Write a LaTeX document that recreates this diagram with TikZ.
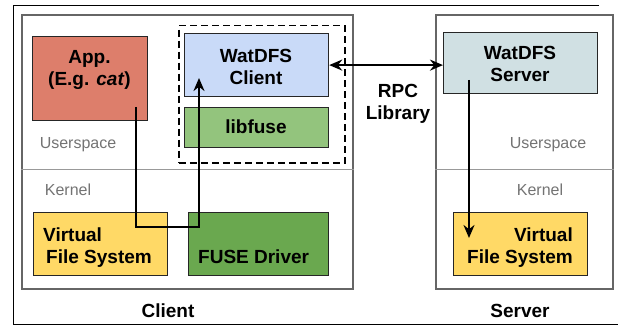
\documentclass[tikz,border=0pt]{standalone}
\usepackage{fontspec}
\setmainfont{Liberation Sans}
\usepackage{xcolor}
\usetikzlibrary{arrows.meta}
\definecolor{appred}{HTML}{DD7E6B}
\definecolor{cliblue}{HTML}{C9DAF8}
\definecolor{fuselight}{HTML}{93C47D}
\definecolor{fusedark}{HTML}{6AA84F}
\definecolor{vfsyellow}{HTML}{FFD966}
\definecolor{srvcyan}{HTML}{D0E0E3}

\begin{document}
\begin{tikzpicture}[x=1pt,y=-1pt,
  outer/.style={draw=black!60,line width=2.4pt,anchor=north west,inner sep=0pt},
  box/.style={draw=black!85,line width=1.2pt,anchor=north west,inner sep=0pt},
  lbl/.style={font=\fontsize{19}{22}\selectfont\bfseries,inner sep=0pt,anchor=base},
  sublbl/.style={font=\fontsize{16}{18}\selectfont,text=black!55,inner sep=0pt,anchor=base},
  flow/.style={line width=2.8pt,-{Stealth[length=13pt,width=11pt]}}]
\useasboundingbox (0,0) rectangle (618,326);
\draw[line width=0.8pt] (599,5) -- (13,5) -- (13,324) -- (618,324);
\node[outer,minimum width=331pt,minimum height=274pt] (client) at (21,14) {};
\node[outer,minimum width=177pt,minimum height=274pt] (server) at (435,14) {};
\foreach \b in {client,server}{
\draw[black!40,line width=0.8pt] (\b.west |- 0,169) -- (\b.east |- 0,169);
}
\node[draw,line width=1.5pt,dash pattern=on 7pt off 4pt,anchor=north west,inner sep=0pt,minimum width=166pt,minimum height=137pt] (wrap) at (178,25) {};
\node[box,fill=appred,minimum width=115pt,minimum height=84pt] (app) at (32,36) {};
\node[box,fill=cliblue,minimum width=144pt,minimum height=63pt] (wclient) at (184,33) {};
\node[box,fill=fuselight,minimum width=144pt,minimum height=40pt] (libfuse) at (184,107) {};
\node[box,fill=vfsyellow,minimum width=134pt,minimum height=63pt] (cvfs) at (33,212) {};
\node[box,fill=fusedark,minimum width=140pt,minimum height=63pt] (fuse) at (188,212) {};
\node[box,fill=srvcyan,minimum width=154pt,minimum height=61pt] (wserver) at (443,32) {};
\node[box,fill=vfsyellow,minimum width=134pt,minimum height=63pt] (svfs) at (453,212) {};

\node[lbl,align=center] (apptext) at (89.5,86) {App.\\(E.g. \textit{cat})};
\node[lbl,align=center] (wclienttext) at (256,85) {WatDFS\\Client};
\node[lbl] (libfusetext) at (256,133) {libfuse};
\node[lbl,align=left,anchor=base west] (cvfstext) at (43,263) {Virtual\\\hspace*{3pt}File System};
\node[lbl,anchor=base west] (fusetext) at (198,263) {FUSE Driver};
\node[lbl,align=center] (wservertext) at (520,82) {WatDFS\\Server};
\node[lbl,align=right,anchor=base east] (svfstext) at (573,263) {Virtual\\File System};
\node[lbl,align=center] (rpc) at (398,120) {RPC\\Library};
\node[lbl] (clientlbl) at (168,317) {Client};
\node[lbl] (serverlbl) at (520,317) {Server};
\node[sublbl] (cuser) at (78,148) {Userspace};
\node[sublbl] (ckern) at (68,195) {Kernel};
\node[sublbl] (suser) at (548,148) {Userspace};
\node[sublbl] (skern) at (540,195) {Kernel};

\coordinate (appout) at (136,107);
\coordinate (cliin) at (199,78);
\coordinate (turn) at (0,227);
\coordinate (srvout) at (469,80);
\coordinate (srvin) at (469,238);
\draw[flow] (appout) -- (appout |- turn) -| (cliin);
\draw[flow] (srvout) -- (srvin);
\draw[line width=2.8pt,{Stealth[length=13pt,width=11pt]}-{Stealth[length=13pt,width=11pt]}] (wclient.east) -- (wclient.east -| wserver.west);
\end{tikzpicture}
\end{document}
